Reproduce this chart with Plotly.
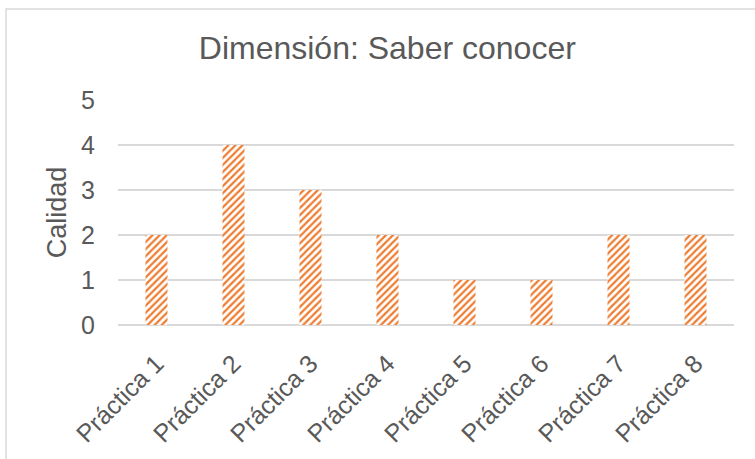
import plotly.graph_objects as go

# Categories and scores
practicas = ["Práctica 1", "Práctica 2", "Práctica 3", "Práctica 4",
             "Práctica 5", "Práctica 6", "Práctica 7", "Práctica 8"]
calidad = [2, 4, 3, 2, 1, 1, 2, 2]
y_ticks = [0, 1, 2, 3, 4, 5]

ORANGE = "#ED7D31"
GRAY_TEXT = "#595959"
GRID = "#D9D9D9"
FONT = "Liberation Sans, Arial, sans-serif"

fig = go.Figure(
    go.Bar(
        x=practicas,
        y=calidad,
        marker=dict(
            color="white",
            line=dict(width=0),
            pattern=dict(shape="/", fgcolor=ORANGE, bgcolor="white",
                         size=5, solidity=0.45, fillmode="replace"),
        ),
    )
)

fig.update_layout(
    width=755,
    height=459,
    margin=dict(l=118, r=21, t=100, b=134),
    paper_bgcolor="white",
    plot_bgcolor="white",
    bargap=0.714,
    showlegend=False,
    font=dict(family=FONT, color=GRAY_TEXT, size=25),
    title=dict(text="Dimensión: Saber conocer", x=0.513, xanchor="center",
               y=0.895, yanchor="middle",
               font=dict(family=FONT, size=32, color=GRAY_TEXT)),
    shapes=[
        # outer chart frame
        dict(type="rect", xref="paper", yref="paper",
             x0=-0.1818, x1=1.2, y0=-1.0, y1=1.404,
             line=dict(color=GRID, width=1.5), fillcolor="rgba(0,0,0,0)",
             layer="below"),
    ],
)

fig.update_xaxes(
    tickangle=-45,
    showgrid=False,
    showline=False,
    zeroline=False,
    ticklabelstandoff=18,
    tickfont=dict(size=25, color=GRAY_TEXT),
)

fig.update_yaxes(
    range=[0, 5],
    tickvals=y_ticks,
    showgrid=True,
    gridcolor=GRID,
    gridwidth=1.5,
    zeroline=True,
    zerolinecolor=GRID,
    zerolinewidth=1.5,
    showline=False,
    ticklabelstandoff=22,
    tickfont=dict(size=25, color=GRAY_TEXT),
    title=dict(text="Calidad", font=dict(size=27, color=GRAY_TEXT), standoff=6),
)

fig.write_html("out.html")
